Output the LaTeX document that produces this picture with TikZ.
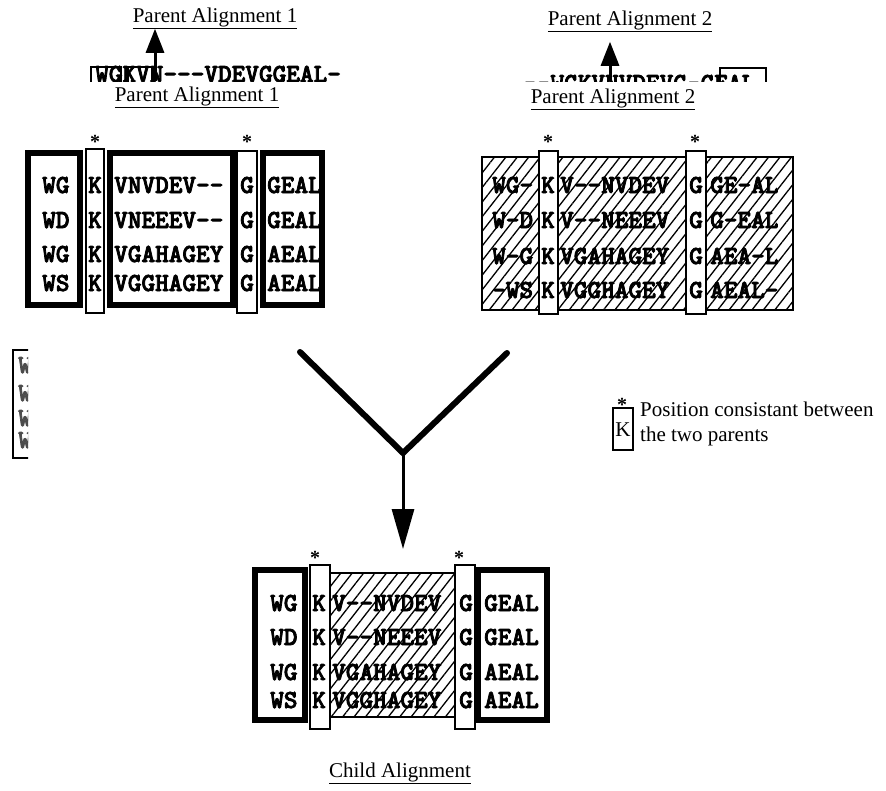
\documentclass[tikz,border=0pt]{standalone}
\usepackage{fontspec}
\setmainfont{Liberation Serif}
\newfontfamily\seqface[FakeBold=3]{lmmonolt10-bold.otf}
\usetikzlibrary{arrows.meta,patterns.meta}
\newcommand{\seqfnt}{\fontsize{26}{26}\selectfont\seqface}
\tikzset{
  thickbox/.style={draw, line width=5.5pt},
  colbox/.style={draw, line width=1.6pt, fill=white},
  hatchbox/.style={draw, line width=1.4pt, pattern={Lines[angle=52,distance=9pt,line width=1.3pt]}},
  seq/.style={font=\seqfnt, inner sep=0pt, anchor=base west},
  seqc/.style={font=\seqfnt, inner sep=0pt, anchor=base},
  lbl/.style={font=\fontsize{21}{21}\selectfont, inner sep=0pt},
  staricon/.style={font=\fontsize{20}{20}\selectfont\bfseries, inner sep=0pt},
  bigarm/.style={line width=6pt, line cap=round, line join=miter},
  downarrow/.style={line width=3pt, -{Triangle[length=40pt,width=22pt]}},
  uparrow/.style={line width=3pt, -{Triangle[length=24pt,width=18pt]}},
}
\begin{document}
\begin{tikzpicture}[x=1pt,y=-1pt]
\useasboundingbox (0,0) rectangle (886,790);
\fill[white] (0,0) rectangle (886,790);

% ---------- top fragments ----------
\node[lbl] (top1) at (215,18) {\underline{Parent Alignment 1}};
\node[lbl] (top2) at (630,21) {\underline{Parent Alignment 2}};
\begin{scope}
  \clip (0,55) rectangle (886,81);
  \node[seq] (frag1) at (95,82) {WGKVN---VDEVGGEAL-};
  \draw[line width=2pt] (91,67) rectangle (121,100);
  \draw[line width=2pt] (128,67) rectangle (152,100);
  \node[seq] (frag2) at (523,91) {--WGKVNVDEVG-GEAL};
  \draw[line width=2pt] (720,68) rectangle (766,100);
\end{scope}
\coordinate (a1s) at (155,81);
\coordinate (a2s) at (610,81);
\draw[uparrow] (a1s) -- (top1.south -| a1s);
\draw[uparrow] (a2s) -- ([yshift=-10pt]top2.south -| a2s);

\node[lbl] (p1) at (197,97) {\underline{Parent Alignment 1}};
\node[lbl] (p2) at (613,99) {\underline{Parent Alignment 2}};

% ---------- parent 1 ----------
\draw[thickbox] (28,153) rectangle (80,305);
\draw[thickbox] (110,153) rectangle (233,305);
\draw[thickbox] (263,153) rectangle (322,305);
\draw[colbox] (86,149) rectangle (104,313);
\draw[colbox] (237,151) rectangle (257,313);
\node[staricon] (s1a) at (95,142) {*};
\node[staricon] (s1b) at (247,142) {*};
\foreach \y/\a/\b/\c [count=\i] in {193/WG/VNVDEV--/GEAL, 228/WD/VNEEEV--/GEAL, 262/WG/VGAHAGEY/AEAL, 291/WS/VGGHAGEY/AEAL}{
  \node[seq] (p1l\i) at (42,\y) {\a};
  \node[seqc] (p1k\i) at (95,\y) {K};
  \node[seq] (p1m\i) at (114,\y) {\b};
  \node[seqc] (p1g\i) at (247,\y) {G};
  \node[seq] (p1r\i) at (267,\y) {\c};
}

% ---------- parent 2 ----------
\draw[hatchbox] (482,157) rectangle (539,310);
\draw[hatchbox] (558,157) rectangle (686,310);
\draw[hatchbox] (706,157) rectangle (793,310);
\draw[colbox] (539,151) rectangle (558,314);
\draw[colbox] (686,151) rectangle (706,314);
\node[staricon] (s2a) at (548,142) {*};
\node[staricon] (s2b) at (695,142) {*};
\foreach \y/\a/\b/\c [count=\i] in {193/WG-/V--NVDEV/GE-AL, 228/W-D/V--NEEEV/G-EAL, 264/W-G/VGAHAGEY/AEA-L, 298/-WS/VGGHAGEY/AEAL-}{
  \node[seq] (p2l\i) at (492,\y) {\a};
  \node[seqc] (p2k\i) at (548,\y) {K};
  \node[seq] (p2m\i) at (560,\y) {\b};
  \node[seqc] (p2g\i) at (696,\y) {G};
  \node[seq] (p2r\i) at (710,\y) {\c};
}

% ---------- left fragment ----------
\begin{scope}
  \clip (0,340) rectangle (28,470);
  \draw[line width=2.5pt] (13,350) rectangle (60,458);
  \foreach \y [count=\i] in {373,401,426,448}{
    \node[seq, text=black!70] (lf\i) at (18,\y) {WG};
  }
\end{scope}

% ---------- merge arrow ----------
\coordinate (ya) at (300,352);
\coordinate (yb) at (507,353);
\coordinate (yj) at (403,453);
\coordinate (yt) at (403,549);
\draw[bigarm] (ya) -- (yj) -- (yb);
\draw[downarrow] (yj) -- (yt);

% ---------- legend ----------
\node[staricon] (ls) at (622,405) {*};
\draw[line width=1.6pt] (613,408) rectangle (633,450);
\node[font=\fontsize{21}{21}\selectfont, inner sep=0pt] (lk) at (623,430) {K};
\node[font=\fontsize{21}{25}\selectfont, inner sep=0pt, anchor=north west, align=left] (ltext) at (640,402) {Position consistant between\\the two parents};

% ---------- child ----------
\draw[thickbox] (255,570) rectangle (305,720);
\draw[hatchbox] (330,573) rectangle (455,717);
\draw[thickbox] (478,570) rectangle (547,720);
\draw[colbox] (310,565) rectangle (330,729);
\draw[colbox] (455,565) rectangle (475,729);
\node[staricon] (sca) at (315,558) {*};
\node[staricon] (scb) at (459,558) {*};
\foreach \y/\a/\b/\c [count=\i] in {611/WG/V--NVDEV/GEAL, 645/WD/V--NEEEV/GEAL, 680/WG/VGAHAGEY/AEAL, 708/WS/VGGHAGEY/AEAL}{
  \node[seq] (cl\i) at (270,\y) {\a};
  \node[seqc] (ck\i) at (319,\y) {K};
  \node[seq] (cm\i) at (332,\y) {\b};
  \node[seqc] (cg\i) at (466,\y) {G};
  \node[seq] (cr\i) at (484,\y) {\c};
}
\node[lbl] (child) at (400,773) {\underline{Child Alignment}};
\end{tikzpicture}
\end{document}
